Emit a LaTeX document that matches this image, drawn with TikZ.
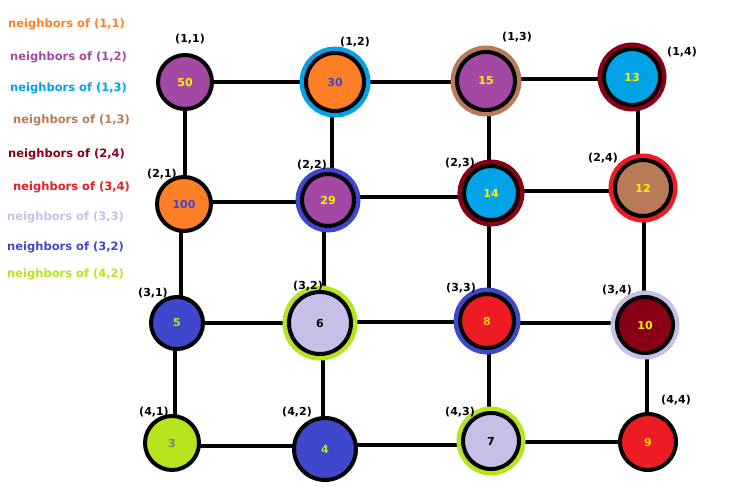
\documentclass[tikz,border=0pt]{standalone}
\usepackage{fontspec}
\setmainfont{DejaVu Sans}
\usetikzlibrary{backgrounds,calc}
\definecolor{cOrange}{HTML}{FF7F27}
\definecolor{cPurple}{HTML}{A349A4}
\definecolor{cSky}{HTML}{00A2E8}
\definecolor{cBrown}{HTML}{B97A57}
\definecolor{cDark}{HTML}{880015}
\definecolor{cRed}{HTML}{ED1C24}
\definecolor{cLav}{HTML}{C8BFE7}
\definecolor{cBlue}{HTML}{3F48CC}
\definecolor{cLime}{HTML}{B5E61D}
\definecolor{cYellow}{HTML}{FFF200}
\definecolor{cGold}{HTML}{FFC90E}
\definecolor{cGray}{HTML}{7F7F7F}
\newcommand{\hedge}[2]{\coordinate (mid-#1-#2) at ($(#1.center)!0.5!(#2.center)$);
  \draw[edge] (mid-#1-#2 -| #1.center) -- (mid-#1-#2 -| #2.center);}
\newcommand{\vedge}[2]{\coordinate (mid-#1-#2) at ($(#1.center)!0.5!(#2.center)$);
  \draw[edge] (mid-#1-#2 |- #1.center) -- (mid-#1-#2 |- #2.center);}
\begin{document}
\begin{tikzpicture}[x=1pt,y=-1pt,
  vert/.style={circle, draw=black, line width=4pt, inner sep=0pt, minimum size=#1,
    font=\fontsize{11}{13}\selectfont\bfseries},
  ring/.style={preaction={draw=#1, line width=13pt}},
  lbl/.style={font=\fontsize{11}{13}\selectfont\bfseries, text=black, inner sep=0pt},
  leg/.style={anchor=west, font=\fontsize{11.5}{13}\selectfont\bfseries, inner sep=0pt},
  edge/.style={line width=4pt, black}]
\useasboundingbox (0,0) rectangle (734,498);

% legend
\node[leg, text=cOrange] (l1) at (8,24) {neighbors of (1,1)};
\node[leg, text=cPurple] (l2) at (10,57) {neighbors of (1,2)};
\node[leg, text=cSky] (l3) at (10,88) {neighbors of (1,3)};
\node[leg, text=cBrown] (l4) at (13,120) {neighbors of (1,3)};
\node[leg, text=cDark] (l5) at (8,154) {neighbors of (2,4)};
\node[leg, text=cRed] (l6) at (13,187) {neighbors of (3,4)};
\node[leg, text=cLav] (l7) at (7,217) {neighbors of (3,3)};
\node[leg, text=cBlue] (l8) at (7,247) {neighbors of (3,2)};
\node[leg, text=cLime] (l9) at (7,274) {neighbors of (4,2)};

% vertices
\node[vert=54, fill=cPurple, text=cYellow] (n11) at (185,82) {50};
\node[vert=58, fill=cOrange, text=cBlue, ring=cSky] (n12) at (335,82) {30};
\node[vert=58, fill=cPurple, text=cYellow, ring=cBrown] (n13) at (486,81) {15};
\node[vert=56, fill=cSky, text=cYellow, ring=cDark] (n14) at (632,77) {13};

\node[vert=54, fill=cOrange, text=cBlue] (n21) at (184,204) {100};
\node[vert=52, fill=cPurple, text=cYellow, ring=cBlue] (n22) at (328,200) {29};
\node[vert=54, fill=cSky, text=cYellow, ring=cDark] (n23) at (491,193) {14};
\node[vert=56, fill=cBrown, text=cYellow, ring=cRed] (n24) at (643,188) {12};

\node[vert=52, fill=cBlue, text=cLime] (n31) at (177,323) {5};
\node[vert=62, fill=cLav, text=black, ring=cLime] (n32) at (320,323) {6};
\node[vert=54, fill=cRed, text=cGold, ring=cBlue] (n33) at (487,321) {8};
\node[vert=56, fill=cDark, text=cYellow, ring=cLav] (n34) at (645,325) {10};

\node[vert=54, fill=cLime, text=cGray] (n41) at (172,443) {3};
\node[vert=62, fill=cBlue, text=cLime] (n42) at (325,449) {4};
\node[vert=56, fill=cLav, text=black, ring=cLime] (n43) at (491,441) {7};
\node[vert=56, fill=cRed, text=cGold] (n44) at (648,442) {9};

% coordinate labels
\node[lbl] (t11) at (190,39) {(1,1)};
\node[lbl] (t12) at (355,42) {(1,2)};
\node[lbl] (t13) at (517,37) {(1,3)};
\node[lbl] (t14) at (682,52) {(1,4)};
\node[lbl] (t21) at (162,174) {(2,1)};
\node[lbl] (t22) at (312,165) {(2,2)};
\node[lbl] (t23) at (460,163) {(2,3)};
\node[lbl] (t24) at (603,158) {(2,4)};
\node[lbl] (t31) at (153,293) {(3,1)};
\node[lbl] (t32) at (308,286) {(3,2)};
\node[lbl] (t33) at (461,288) {(3,3)};
\node[lbl] (t34) at (617,290) {(3,4)};
\node[lbl] (t41) at (154,412) {(4,1)};
\node[lbl] (t42) at (297,412) {(4,2)};
\node[lbl] (t43) at (460,412) {(4,3)};
\node[lbl] (t44) at (676,400) {(4,4)};

% edges
\begin{scope}[on background layer]
\hedge{n11}{n12} \hedge{n12}{n13} \hedge{n13}{n14}
\hedge{n21}{n22} \hedge{n22}{n23} \hedge{n23}{n24}
\hedge{n31}{n32} \hedge{n32}{n33} \hedge{n33}{n34}
\hedge{n41}{n42} \hedge{n42}{n43} \hedge{n43}{n44}
\vedge{n11}{n21} \vedge{n21}{n31} \vedge{n31}{n41}
\vedge{n12}{n22} \vedge{n22}{n32} \vedge{n32}{n42}
\vedge{n13}{n23} \vedge{n23}{n33} \vedge{n33}{n43}
\vedge{n14}{n24} \vedge{n24}{n34} \vedge{n34}{n44}
\end{scope}
\end{tikzpicture}
\end{document}
